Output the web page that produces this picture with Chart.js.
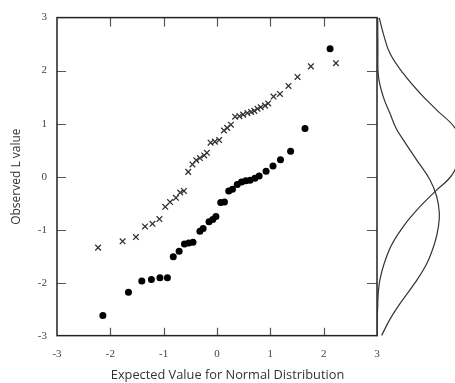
<!DOCTYPE html>
<html>
<head>
<meta charset="utf-8">
<script src="https://cdn.jsdelivr.net/npm/chart.js@4.4.1/dist/chart.umd.min.js"></script>
<style>
  body { margin: 0; background: #fff; }
  #wrap { position: relative; width: 455px; height: 383px; }
  #main { position: absolute; left: 0; top: 0; }
  #dens { position: absolute; left: 377px; top: 0; }
</style>
</head>
<body>
<div id="wrap">
  <canvas id="main" width="455" height="383"></canvas>
  <canvas id="dens" width="78" height="383"></canvas>
</div>
<script>
// crosses (upper series)
const crossX = [-2.23, -1.77, -1.52, -1.35, -1.21, -1.08, -0.97, -0.88, -0.77, -0.69, -0.62,
  -0.54, -0.46, -0.39, -0.32, -0.24, -0.19, -0.12, -0.04, 0.04, 0.13, 0.19, 0.26, 0.34, 0.42,
  0.49, 0.57, 0.64, 0.70, 0.76, 0.82, 0.90, 0.96, 1.06, 1.18, 1.34, 1.51, 1.76, 2.23];
const crossY = [-1.34, -1.22, -1.14, -0.94, -0.89, -0.80, -0.57, -0.48, -0.40, -0.30, -0.27,
  0.09, 0.23, 0.31, 0.35, 0.40, 0.45, 0.64, 0.66, 0.69, 0.87, 0.92, 0.98, 1.13, 1.14,
  1.17, 1.20, 1.22, 1.24, 1.28, 1.31, 1.34, 1.38, 1.51, 1.56, 1.71, 1.88, 2.08, 2.14];

// filled dots (lower series)
const dotX = [-2.14, -1.66, -1.41, -1.23, -1.07, -0.93, -0.82, -0.71, -0.61, -0.53, -0.45,
  -0.32, -0.26, -0.15, -0.08, -0.02, 0.07, 0.14, 0.22, 0.29, 0.38, 0.46, 0.54, 0.62, 0.71,
  0.79, 0.92, 1.05, 1.19, 1.38, 1.65, 2.12];
const dotY = [-2.62, -2.18, -1.97, -1.94, -1.91, -1.91, -1.51, -1.41, -1.27, -1.25, -1.24,
  -1.03, -0.98, -0.85, -0.81, -0.75, -0.49, -0.48, -0.27, -0.24, -0.15, -0.10, -0.08, -0.07, -0.03,
  0.01, 0.10, 0.20, 0.32, 0.48, 0.91, 2.41];

// density curves in the side panel (value on the L axis, density across)
const curveAValue = [3.0, 2.70, 2.33, 1.95, 1.58, 1.26, 0.92, 0.55, 0.14, -0.05, -0.24, -0.62, -0.93, -1.34, -1.93, -2.5, -3.0];
const curveADens  = [0.012, 0.034, 0.070, 0.142, 0.232, 0.323, 0.422, 0.46, 0.422, 0.384, 0.323, 0.215, 0.142, 0.070, 0.016, 0.003, 0.001];
const curveBValue = [3.0, 2.4, 1.89, 1.51, 1.20, 0.92, 0.70, 0.32, -0.05, -0.37, -0.68, -0.93, -1.24, -1.62, -1.99, -2.37, -2.68, -2.98];
const curveBDens  = [0.004, 0.005, 0.008, 0.034, 0.070, 0.103, 0.142, 0.215, 0.286, 0.323, 0.337, 0.332, 0.312, 0.270, 0.205, 0.126, 0.069, 0.025];

const AXIS_MIN = -3;
const AXIS_MAX = 3;
const DENS_MAX = 0.4216;

function pairs(xs, ys) {
  return xs.map((v, i) => ({ x: v, y: ys[i] }));
}

// box with inward tick marks on all four sides
const framePlugin = {
  id: 'frame',
  beforeDatasetsDraw(chart) {
    const { ctx, chartArea: a, scales: { x, y } } = chart;
    ctx.save();
    ctx.strokeStyle = '#555';
    ctx.lineWidth = 1.2;
    ctx.beginPath();
    x.ticks.forEach(t => {
      if (t.value <= AXIS_MIN || t.value >= AXIS_MAX) return;
      const px = Math.round(x.getPixelForValue(t.value)) + 0.5;
      ctx.moveTo(px, a.bottom); ctx.lineTo(px, a.bottom - 8);
      ctx.moveTo(px, a.top); ctx.lineTo(px, a.top + 9);
    });
    y.ticks.forEach(t => {
      if (t.value <= AXIS_MIN || t.value >= AXIS_MAX) return;
      const py = Math.round(y.getPixelForValue(t.value)) + 0.5;
      ctx.moveTo(a.left, py); ctx.lineTo(a.left + 9, py);
      ctx.moveTo(a.right, py); ctx.lineTo(a.right - 10, py);
    });
    ctx.stroke();
    ctx.strokeStyle = '#222';
    ctx.lineWidth = 1.5;
    ctx.strokeRect(a.left, a.top, a.right - a.left, a.bottom - a.top);
    ctx.restore();
  }
};

const tickFont = { family: 'Liberation Serif', size: 11 };

new Chart(document.getElementById('main'), {
  type: 'scatter',
  data: {
    datasets: [
      {
        label: 'crosses',
        data: pairs(crossX, crossY),
        pointStyle: 'crossRot',
        pointRadius: 4,
        borderColor: '#333',
        borderWidth: 1.3
      },
      {
        label: 'dots',
        data: pairs(dotX, dotY),
        pointStyle: 'circle',
        pointRadius: 3.5,
        backgroundColor: '#000',
        borderWidth: 0
      }
    ]
  },
  options: {
    responsive: false,
    animation: false,
    devicePixelRatio: 1,
    layout: { padding: { top: 17.6, left: 0, right: 0, bottom: 0 } },
    scales: {
      x: {
        type: 'linear',
        min: AXIS_MIN,
        max: AXIS_MAX,
        grid: { display: false, drawTicks: false },
        border: { display: false },
        ticks: { stepSize: 1, padding: 12, color: '#444', font: tickFont },
        afterFit: s => { s.height = 32; }
      },
      y: {
        min: AXIS_MIN,
        max: AXIS_MAX,
        grid: { display: false, drawTicks: false },
        border: { display: false },
        ticks: { stepSize: 1, padding: 10, color: '#444', font: tickFont },
        title: { display: true, text: 'Observed L value', color: '#333', font: { family: 'Open Sans', size: 12 }, padding: { top: 9, bottom: 0 } },
        afterFit: s => { s.width = 57; }
      },
      side: {
        position: 'right',
        min: AXIS_MIN,
        max: AXIS_MAX,
        grid: { display: false, drawTicks: false },
        border: { display: false },
        ticks: { display: false },
        afterFit: s => { s.width = 78; }
      }
    },
    plugins: {
      legend: { display: false },
      tooltip: { enabled: false },
      title: {
        display: true,
        position: 'bottom',
        text: 'Expected Value for Normal Distribution',
        color: '#333',
        font: { family: 'Open Sans', size: 12.8, weight: 'normal' },
        padding: 0
      }
    }
  },
  plugins: [framePlugin]
});

new Chart(document.getElementById('dens'), {
  type: 'scatter',
  data: {
    datasets: [
      {
        data: pairs(curveADens, curveAValue),
        showLine: true,
        tension: 0.4,
        pointRadius: 0,
        borderColor: '#333',
        borderWidth: 1.2
      },
      {
        data: pairs(curveBDens, curveBValue),
        showLine: true,
        tension: 0.4,
        pointRadius: 0,
        borderColor: '#333',
        borderWidth: 1.2
      }
    ]
  },
  options: {
    responsive: false,
    animation: false,
    devicePixelRatio: 1,
    layout: { padding: { top: 17.6, bottom: 46.4, left: 0, right: 0 } },
    scales: {
      x: { type: 'linear', min: 0, max: DENS_MAX, display: false },
      y: { min: AXIS_MIN, max: AXIS_MAX, display: false }
    },
    plugins: { legend: { display: false }, tooltip: { enabled: false } }
  }
});
</script>
</body>
</html>
